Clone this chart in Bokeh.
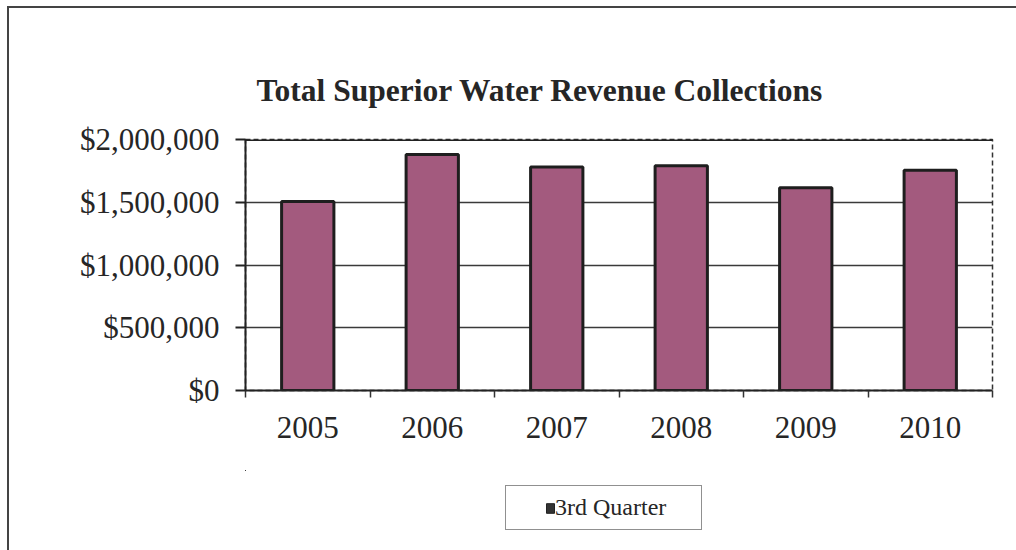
from bokeh.plotting import figure
from bokeh.layouts import column
from bokeh.models import (Range1d, FixedTicker, NumeralTickFormatter, Legend,
                          LegendItem, Title, Span)
from bokeh.embed import file_html
from bokeh.resources import INLINE

# ---- data ----
years = ["2005", "2006", "2007", "2008", "2009", "2010"]
revenue = [1505000, 1880000, 1780000, 1790000, 1615000, 1755000]
y_ticks = [0, 500000, 1000000, 1500000, 2000000]
series_name = "3rd Quarter"
title_text = "Total Superior Water Revenue Collections"

FONT = "Liberation Serif"
TEXT = "#262626"

xs = list(range(1, len(years) + 1))
x_bounds = [i + 0.5 for i in range(0, len(years) + 1)]

p = figure(width=1007, height=462, output_backend="svg", toolbar_location=None,
           x_range=Range1d(0.5, len(years) + 0.5),
           y_range=Range1d(y_ticks[0], y_ticks[-1]),
           min_border_left=236, min_border_right=24,
           min_border_top=131, min_border_bottom=80)
p.title = None

spacer = Title(text=" ", text_font_size="13px")
t = Title(text=title_text, align="left", offset=11, text_font=FONT,
          text_font_size="31.5px", text_font_style="bold", text_color=TEXT)
p.add_layout(spacer, "above")
p.add_layout(t, "above")

r = p.vbar(x=xs, top=revenue, width=0.42, fill_color="#a35a7e",
           line_color="#1e1e1e", line_width=3)

# frame / grid
p.outline_line_color = "#333333"
p.outline_line_dash = "5 3"
p.outline_line_width = 1.5
p.xgrid.visible = False
p.ygrid.ticker = FixedTicker(ticks=y_ticks)
p.ygrid.grid_line_color = "#3a3a3a"
p.ygrid.grid_line_width = 1.5
p.add_layout(Span(location=y_ticks[-1], dimension="width",
                  line_color="#222222", line_width=3))

# y axis
ya = p.yaxis[0]
ya.ticker = FixedTicker(ticks=y_ticks)
ya.formatter = NumeralTickFormatter(format="$0,0")
ya.major_label_text_font = FONT
ya.major_label_text_font_size = "31px"
ya.major_label_text_color = TEXT
ya.major_tick_out = 10
ya.major_tick_in = 0
ya.minor_tick_out = 0
ya.minor_tick_in = 0
ya.major_label_standoff = 16
ya.axis_line_color = "#222222"
ya.axis_line_width = 2
ya.major_tick_line_color = "#222222"
ya.major_tick_line_width = 2

# x axis
xa = p.xaxis[0]
xa.ticker = FixedTicker(ticks=xs, minor_ticks=x_bounds)
xa.major_label_overrides = {x: y for x, y in zip(xs, years)}
xa.major_label_text_font = FONT
xa.major_label_text_font_size = "31px"
xa.major_label_text_color = TEXT
xa.major_tick_out = 0
xa.major_tick_in = 0
xa.minor_tick_out = 7
xa.minor_tick_in = 0
xa.minor_tick_line_color = "#333333"
xa.minor_tick_line_width = 1.5
xa.major_label_standoff = 19
xa.axis_line_color = "#222222"
xa.axis_line_width = 2

# ---- legend strip below the chart ----
p2 = figure(width=1007, height=80, output_backend="svg", toolbar_location=None,
            x_range=Range1d(100, 101), y_range=Range1d(-2, -1),
            x_axis_location=None, y_axis_location=None, min_border=0)
p2.title = None
p2.grid.visible = False
p2.outline_line_color = None
p2.border_fill_color = "white"
p2.background_fill_color = "white"
proxy = p2.vbar(x=xs, top=revenue, width=0.42, fill_color="#333333",
                line_color="#222222", line_width=1)

legend = Legend(items=[LegendItem(label=series_name, renderers=[proxy])],
                location=(260, 20), orientation="horizontal",
                border_line_color="#222222", border_line_width=1.5,
                padding=8, glyph_width=10, glyph_height=12, label_standoff=0,
                label_text_font=FONT, label_text_font_size="24px",
                label_text_color=TEXT, label_height=24, label_width=138,
                margin=0, title=" ", title_location="left",
                title_standoff=4, title_text_font_size="23px")
p2.add_layout(legend, "center")

layout = column(p, p2, spacing=0)
layout.styles = {"border-left": "2px solid #444", "border-top": "2px solid #444"}
layout.margin = (6, 0, 0, 7)

open("out.html", "w").write(file_html(layout, INLINE))
